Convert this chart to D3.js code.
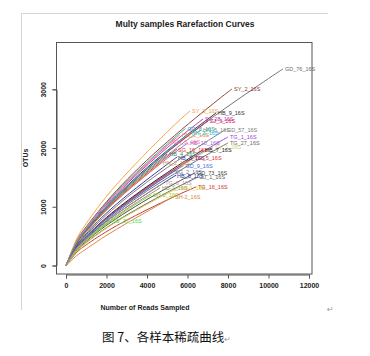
<!DOCTYPE html>
<html><head><meta charset="utf-8">
<script src="https://cdn.jsdelivr.net/npm/d3@7"></script>
<style>body{margin:0;background:#fff}svg{display:block}</style>
</head><body>
<script>
const chartTitle = "Multy samples Rarefaction Curves";
const xTitle = "Number of Reads Sampled";
const yTitle = "OTUs";
const caption = "图 7、各样本稀疏曲线";
const xTicks = [0, 2000, 4000, 6000, 8000, 10000, 12000];
const yTicks = [0, 1000, 2000, 3000];

const sampleNames = ["GD_76_16S","SY_2_16S","SY_3_16S","HB_9_16S","SJ_28_16S","ZJ_3_16S","HN_5_16S","GD_57_16S",
 "HN_1_16S","TG_1_16S","HB_10_16S","TG_27_16S","SY_1_16S","SG_16_16S","HB_7_16S","HB_3_16S","TG_5_16S",
 "HN_2_16S","SG_2_16S","GD_73_16S","HB_5_16S","ZJ_1_16S","TG_16_16S","HB-2_16S","SH-1_16S","SH-2_16S",
 "TG_37_16S","GD_8_16S","HN_3_16S","SG_5_16S","HB_4_16S","GD_9_16S","SH-3_16S","TG_8_16S"];

const sampleReads = [
 [0,500,1000,2500,5000,7500,10000,10716],
 [0,500,1000,2500,5000,7500,8198],
 [0,500,1000,2500,5000,6123],
 [0,500,1000,2500,5000,7407],
 [0,500,1000,2500,5000,6765],
 [0,500,1000,2500,5000,7012],
 [0,500,1000,2500,5000,6667],
 [0,500,1000,2500,5000,7500,7852],
 [0,500,1000,2500,5000,5630],
 [0,500,1000,2500,5000,7500,8000],
 [0,500,1000,2500,5000,6025],
 [0,500,1000,2500,5000,7500,8000],
 [0,500,1000,2500,5000,7259],
 [0,500,1000,2500,5000,5432],
 [0,500,1000,2500,5000,6765],
 [0,500,1000,2500,5000,5432],
 [0,500,1000,2500,5000,6272],
 [0,500,1000,2500,4691],
 [0,500,1000,2500,5000,5284],
 [0,500,1000,2500,5000,6370],
 [0,500,1000,2500,5000,5383],
 [0,500,1000,2500,5000,6519],
 [0,500,1000,2500,5000,6420],
 [0,500,1000,2500,4642],
 [0,500,1000,2500,5000,5531],
 [0,500,1000,2500,5000,5284],
 [0,500,1000,1500,2173],
 [0,500,1000,2500,5000,5900],
 [0,500,1000,2500,5000,6100],
 [0,500,1000,2500,5000,5200],
 [0,500,1000,2500,5000],
 [0,500,1000,2500,5000,5800],
 [0,500,1000,2500,4200],
 [0,500,1000,2500,4800]
];
const sampleOTUs = [
 [0,368,607,1173,1933,2588,3183,3346],
 [0,401,661,1278,2105,2819,3005],
 [0,433,714,1380,2274,2631],
 [0,373,614,1188,1957,2597],
 [0,382,630,1218,2006,2494],
 [0,367,605,1171,1928,2460],
 [0,358,589,1138,1876,2307],
 [0,317,523,1012,1667,2232,2307],
 [0,388,640,1239,2040,2222],
 [0,297,490,947,1560,2089,2188],
 [0,348,573,1107,1824,2086],
 [0,283,467,903,1487,1991,2086],
 [0,294,484,937,1543,2018],
 [0,353,582,1125,1853,1967],
 [0,302,497,961,1582,1967],
 [0,328,541,1047,1724,1830],
 [0,296,488,944,1554,1830],
 [0,348,573,1109,1745],
 [0,291,480,929,1530,1592],
 [0,252,415,803,1323,1575],
 [0,276,454,877,1445,1524],
 [0,237,391,756,1245,1507],
 [0,213,351,678,1117,1337],
 [0,265,437,845,1320],
 [0,234,385,745,1227,1320],
 [0,160,283,617,1113,1166],
 [0,263,434,580,758],
 [0,394,649,1256,2068,2330],
 [0,370,610,1181,1945,2250],
 [0,389,641,1239,2042,2100],
 [0,362,596,1153,1900],
 [0,291,480,928,1528,1700],
 [0,259,427,826,1200],
 [0,274,452,875,1400]
];

const palette = ["#6b6b6b","#8b3a2a","#f4a040","#303030","#c030c0","#d02050","#8a8a8a","#7a7a7a",
 "#f08c30","#a040e0","#9a60d0","#6a6a6a","#c8d870","#d83030","#202020","#303090","#e03040",
 "#e09040","#707090","#404040","#2030a0","#606060","#d03030","#8a9a60","#d8c840","#d08840",
 "#40e040","#20b0a0","#20c0e0","#ff70b0","#2e8b57","#4169e1","#9acd32","#bc8f8f"];

const W = 370, H = 356;
const FONT = "Liberation Sans, Arial, sans-serif";
const svg = d3.select("body").append("svg").attr("width", W).attr("height", H);

// outer frame (document image border)
svg.append("path").attr("d", "M21.5,310 L21.5,13.5 L328,13.5")
  .attr("fill","none").attr("stroke","#d4d4d4").attr("stroke-width",1);

const x = d3.scaleLinear().domain([0, 12000]).range([66, 309]);
const y = d3.scaleLinear().domain([0, 3000]).range([265.5, 89.3]);

// curves
const line = d3.line().x(d => x(d[0])).y(d => y(d[1])).curve(d3.curveNatural);
const g = svg.append("g");
sampleNames.forEach((name, i) => {
  const pts = sampleReads[i].map((r, j) => [r, sampleOTUs[i][j]]);
  g.append("path").attr("d", line(pts)).attr("fill","none")
    .attr("stroke", palette[i]).attr("stroke-width", 0.95);
});
sampleNames.forEach((name, i) => {
  const n = sampleReads[i].length - 1;
  g.append("text").attr("x", x(sampleReads[i][n]) + 2).attr("y", y(sampleOTUs[i][n]))
    .attr("dy","0.35em").attr("font-family", FONT)
    .attr("font-size", 5.5).attr("fill", palette[i]).text(name);
});

// plot box
svg.append("rect").attr("x",56.5).attr("y",42.5).attr("width",255.5).attr("height",231.5)
  .attr("fill","none").attr("stroke","#555").attr("stroke-width",1);

// axes
const xAxis = svg.append("g").attr("transform","translate(0,274.5)")
  .call(d3.axisBottom(x).tickValues(xTicks).tickSize(4).tickPadding(5).tickFormat(d3.format("d")));
const yAxis = svg.append("g").attr("transform","translate(56.5,0)")
  .call(d3.axisLeft(y).tickValues(yTicks).tickSize(4).tickPadding(4).tickFormat(d3.format("d")));
[xAxis, yAxis].forEach(a => {
  a.selectAll("path").attr("stroke","#555");
  a.selectAll("line").attr("stroke","#555");
  a.selectAll("text").attr("font-family", FONT)
    .attr("font-size",7).attr("font-weight","bold").attr("fill","#222");
});
yAxis.selectAll(".tick text")
  .attr("transform","rotate(-90)").attr("x",0).attr("y",-13)
  .attr("dy","0.35em").attr("text-anchor","middle");

// titles
svg.append("text").attr("x",185).attr("y",27).attr("text-anchor","middle")
  .attr("font-family", FONT).attr("font-size",8.5)
  .attr("font-weight","bold").attr("fill","#222").text(chartTitle);
svg.append("text").attr("x",145).attr("y",310).attr("text-anchor","middle")
  .attr("font-family", FONT).attr("font-size",7)
  .attr("font-weight","bold").attr("fill","#222").text(xTitle);
svg.append("text").attr("transform","translate(28,158) rotate(-90)").attr("text-anchor","middle")
  .attr("font-family", FONT).attr("font-size",7)
  .attr("font-weight","bold").attr("fill","#222").text(yTitle);

// caption and paragraph marks
svg.append("text").attr("x",102).attr("y",342)
  .attr("font-family","Noto Sans CJK SC, sans-serif").attr("font-size",12.5)
  .attr("fill","#111").text(caption)
  .append("tspan").attr("font-size",8).attr("fill","#999").text("↵");
svg.append("text").attr("x",327).attr("y",312)
  .attr("font-family","DejaVu Sans, sans-serif").attr("font-size",8).attr("fill","#999").text("↵");
</script>
</body></html>
